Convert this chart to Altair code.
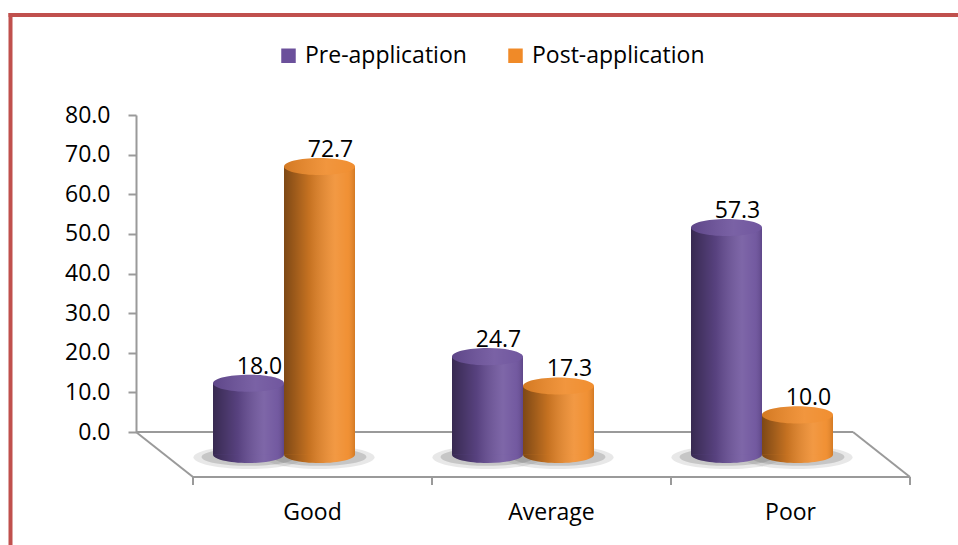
import altair as alt
import pandas as pd

# ---------------- data ----------------
categories = ["Good", "Average", "Poor"]
series = ["Pre-application", "Post-application"]
pre_values = [18.0, 24.7, 57.3]
post_values = [72.7, 17.3, 10.0]
y_ticks = [0, 10, 20, 30, 40, 50, 60, 70, 80]

rows = []
for i, c in enumerate(categories):
    rows.append({"cat": c, "series": series[0], "value": pre_values[i]})
    rows.append({"cat": c, "series": series[1], "value": post_values[i]})
df = pd.DataFrame(rows)

# ---------------- style / layout ----------------
FONT = "Open Sans"
FS = 23
GREY = "#9a9a9a"
FRAME = "#C0504D"
PURPLE = "#6B509B"
ORANGE = "#F08A28"
COLORS = {series[0]: PURPLE, series[1]: ORANGE}

W, H = 717, 317           # plot area (back wall)
DX, DY = 28.5, 22.5       # half depth shift of the 3D floor
BAR_W = 71
BAND = W / len(categories)
C0 = BAND / 2 + DX
ELL = "M-1,0A1,0.24,0,1,1,1,0A1,0.24,0,1,1,-1,0Z"
SH1 = "M-1.55,0.08A1.55,0.33,0,1,1,1.55,0.08A1.55,0.33,0,1,1,-1.55,0.08Z"
SH2 = "M-1.32,0.07A1.32,0.25,0,1,1,1.32,0.07A1.32,0.25,0,1,1,-1.32,0.07Z"


def grad(stops):
    return {"gradient": "linear", "x1": 0, "x2": 1, "y1": 0, "y2": 0,
            "stops": [{"offset": o, "color": c} for o, c in stops]}


BODY_SHADE = grad([(0, "rgba(0,0,0,0.48)"), (0.35, "rgba(0,0,0,0.18)"),
                   (0.72, "rgba(255,255,255,0.13)"), (0.9, "rgba(255,255,255,0.06)"),
                   (1, "rgba(0,0,0,0.12)")])
TOP_SHADE = grad([(0, "rgba(0,0,0,0.12)"), (0.6, "rgba(255,255,255,0.10)"),
                  (1, "rgba(255,255,255,0.04)")])

XSCALE = alt.Scale(domain=categories, paddingInner=0, paddingOuter=0)
XAXIS = alt.Axis(orient="bottom", offset=2 * DY, domain=False, grid=False,
                 tickSize=8, tickOpacity=0, labelOffset=2 * DX,
                 labelFont=FONT, labelFontSize=FS, labelColor="black",
                 labelAngle=0, labelBaseline="alphabetic", labelPadding=34)
X = alt.X("cat:N", title=None, scale=XSCALE, axis=XAXIS)
XSTART = alt.X("cat:N", title=None, scale=XSCALE, axis=XAXIS, bandPosition=0)
XO = alt.XOffset("series:N",
                 scale=alt.Scale(domain=series, range=[C0 - BAR_W, C0 + BAR_W],
                                 paddingInner=0, paddingOuter=0))
YAX = alt.Axis(values=y_ticks, format=".1f", grid=False,
               labelFont=FONT, labelFontSize=FS, labelColor="black", labelPadding=18,
               domainColor=GREY, domainWidth=2, tickColor=GREY, tickWidth=2, tickSize=8)
YS = alt.Scale(domain=[0, 80], nice=False)
Y = alt.Y("value:Q", title=None, scale=YS, axis=YAX)
Y0 = alt.Y("zero:Q", title=None, scale=YS, axis=YAX)

COLOR = alt.Color("series:N", scale=alt.Scale(domain=series, range=[PURPLE, ORANGE]),
                  legend=alt.Legend(orient="none", legendX=141, legendY=-71,
                                    direction="horizontal", title=None,
                                    symbolType="square", symbolSize=210,
                                    symbolStrokeWidth=0,
                                    labelFont=FONT, labelFontSize=FS,
                                    labelColor="black", labelLimit=400,
                                    labelOffset=5, columnPadding=37))

base = alt.Chart(df)
one = alt.Chart(pd.DataFrame({"k": [0]}))

# floor / frame lines
line = dict(color=GREY, strokeWidth=2)
floor = [
    one.mark_rule(**line).encode(x=alt.value(0), x2=alt.value(W), y=alt.value(H)),
    one.mark_rule(**line).encode(x=alt.value(0), x2=alt.value(2 * DX),
                                 y=alt.value(H), y2=alt.value(H + 2 * DY)),
    one.mark_rule(**line).encode(x=alt.value(2 * DX), x2=alt.value(W + 2 * DX),
                                 y=alt.value(H + 2 * DY)),
    one.mark_rule(**line).encode(x=alt.value(W), x2=alt.value(W + 2 * DX),
                                 y=alt.value(H), y2=alt.value(H + 2 * DY)),
    one.mark_rule(**line).encode(x=alt.value(W + 2 * DX),
                                 y=alt.value(H + 2 * DY), y2=alt.value(H + 2 * DY + 8)),
    alt.Chart(pd.DataFrame({"cat": categories})).mark_rule(xOffset=2 * DX, **line).encode(
        x=XSTART, y=alt.value(H + 2 * DY), y2=alt.value(H + 2 * DY + 8)),
]
frame = [
    one.mark_rule(color=FRAME, strokeWidth=4).encode(
        x=alt.value(-125.5), y=alt.value(-102), y2=alt.value(440)),
    one.mark_rule(color=FRAME, strokeWidth=4).encode(
        x=alt.value(-127.5), x2=alt.value(W + 110), y=alt.value(-100)),
]

zb = base.transform_calculate(zero="0")
shadows = [
    zb.mark_point(filled=True, shape=SH1, size=BAR_W ** 2, color="#6e6e6e",
                  opacity=0.16, strokeWidth=0, yOffset=DY).encode(x=X, xOffset=XO, y=Y0),
    zb.mark_point(filled=True, shape=SH2, size=BAR_W ** 2, color="#6e6e6e",
                  opacity=0.28, strokeWidth=0, yOffset=DY).encode(x=X, xOffset=XO, y=Y0),
]


def cylinder(s):
    b = base.transform_filter(alt.datum.series == s)
    bz = b.transform_calculate(zero="0")
    col = COLORS[s]
    pt = dict(filled=True, shape=ELL, size=BAR_W ** 2, opacity=1, strokeWidth=0, yOffset=DY)
    return [
        bz.mark_point(color=col, **pt).encode(x=X, xOffset=XO, y=Y0),
        bz.mark_point(fill=BODY_SHADE, **pt).encode(x=X, xOffset=XO, y=Y0),
        bz.mark_bar(yOffset=DY, y2Offset=DY).encode(x=X, xOffset=XO, y=Y,
                                                    y2="zero:Q", color=COLOR),
        bz.mark_bar(yOffset=DY, y2Offset=DY, fill=BODY_SHADE).encode(
            x=X, xOffset=XO, y=Y, y2="zero:Q"),
        b.mark_point(color=col, **pt).encode(x=X, xOffset=XO, y=Y),
        b.mark_point(fill=TOP_SHADE, **pt).encode(x=X, xOffset=XO, y=Y),
    ]


labels = base.mark_text(font=FONT, fontSize=FS, color="black", baseline="alphabetic",
                        dx=11, dy=13).encode(
    x=X, xOffset=XO, y=Y, text=alt.Text("value:Q", format=".1f"))

layers = frame + floor + shadows + cylinder(series[0]) + cylinder(series[1]) + [labels]

chart = alt.layer(*layers).properties(
    width=W, height=H,
    padding={"left": 136, "top": 115, "right": 105, "bottom": 113},
    autosize=alt.AutoSizeParams(type="none"),
    background="white",
).configure_view(stroke=None)

chart.save("out.html", embed_options={"renderer": "svg", "actions": False})
